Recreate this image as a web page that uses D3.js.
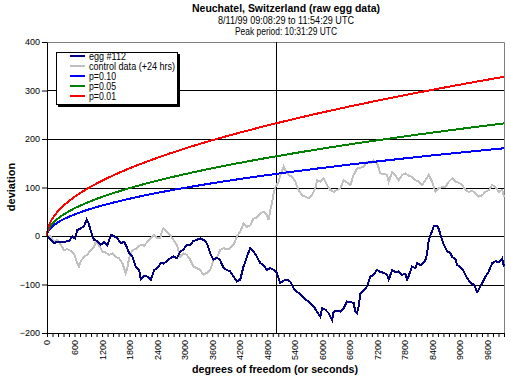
<!DOCTYPE html>
<html>
<meta charset="utf-8">
<script src="https://d3js.org/d3.v7.min.js" charset="utf-8"></script>
<title>Neuchatel egg data</title>
<style>
body { margin: 0; background: #fff; }
text { font-family: Arial, "Liberation Sans", sans-serif; }
</style>
<body>
<script type="text/javascript">

var size = { width : 511, height : 383 };
var plot = { left : 47, right : 504, top : 42, bottom : 333 };

// egg #112, cumulative deviation (seconds, value)
var eggSecs = [0,153,262,371,480,552,611,661,735,807,866,901,954,1026,1098,1172,1244,1316,1390,1462,
    1534,1608,1680,1717,1789,1861,1935,2007,2044,2117,2189,2263,2335,2407,2481,2538,2612,2684,2757,2829,
    2902,2975,3048,3120,3193,3266,3339,3411,3484,3557,3629,3703,3775,3847,3921,3993,4065,4139,4211,4283,
    4357,4430,4502,4576,4648,4720,4794,4866,4938,5012,5084,5156,5230,5302,5374,5449,5520,5593,5667,5739,
    5811,5885,5957,5994,6066,6138,6212,6248,6321,6393,6465,6539,6611,6683,6720,6757,6793,6830,6902,6975,
    7048,7120,7194,7266,7338,7412,7448,7522,7593,7665,7740,7812,7849,7884,7958,8030,8067,8139,8211,8248,
    8285,8320,8357,8394,8430,8504,8539,8575,8648,8722,8794,8831,8903,8940,9012,9084,9158,9230,9302,9376,
    9411,9485,9557,9629,9703,9774,9846,9920,9960];
var eggDev = [0,-14,-12,-12,-10,-1,-5,12,16,20,34,28,10,-8,-10,-18,-12,-20,2,0,
    -5,-15,-12,-18,-35,-42,-63,-70,-90,-82,-84,-90,-70,-66,-56,-57,-52,-46,-42,-46,
    -32,-28,-18,-18,-10,-8,-5,-8,-15,-36,-49,-45,-50,-66,-70,-73,-84,-94,-90,-63,
    -43,-25,-32,-43,-56,-60,-70,-66,-70,-77,-97,-92,-90,-94,-108,-115,-120,-128,-133,-139,
    -145,-156,-166,-149,-152,-159,-173,-156,-154,-156,-149,-135,-136,-138,-156,-159,-145,-118,-112,-104,
    -84,-80,-70,-74,-76,-80,-90,-70,-75,-73,-80,-78,-90,-82,-63,-66,-56,-60,-55,-49,
    -36,-8,2,10,21,20,15,2,-18,-32,-35,-43,-48,-60,-64,-73,-87,-97,-100,-115,
    -110,-97,-84,-73,-56,-52,-54,-46,-63];

// control data (+24 hrs)
var ctrlSecs = [0,81,153,225,299,371,443,517,589,661,698,735,807,879,954,1026,1063,1098,1135,1207,
    1281,1353,1425,1499,1571,1643,1717,1752,1789,1861,1935,2044,2117,2189,2263,2335,2407,2466,2503,2538,
    2612,2684,2757,2829,2902,2975,3048,3120,3193,3266,3339,3411,3484,3557,3629,3703,3775,3847,3921,3993,
    4065,4139,4211,4283,4357,4430,4502,4576,4648,4720,4794,4830,4866,4903,4938,4976,5048,5084,5156,5193,
    5265,5339,5411,5483,5557,5630,5702,5776,5848,5885,5957,6030,6102,6175,6247,6321,6393,6465,6539,6611,
    6683,6757,6830,6902,6975,7048,7120,7194,7266,7338,7412,7448,7522,7593,7665,7740,7812,7884,7958,8030,
    8102,8176,8248,8320,8394,8466,8539,8613,8685,8757,8831,8903,8975,9049,9121,9193,9267,9339,9411,9485,
    9557,9629,9703,9774,9846,9920,9960];
var ctrlDev = [0,-1,-12,-8,-18,-29,-27,-31,-36,-56,-63,-52,-43,-38,-29,-22,-12,-16,-20,-32,
    -34,-39,-36,-43,-46,-56,-77,-66,-46,-29,-27,-18,-20,-12,-5,2,-5,-5,9,16,
    9,2,-8,-18,-43,-36,-39,-49,-63,-66,-70,-80,-76,-70,-49,-44,-29,-25,-28,-25,
    -18,-1,9,26,19,22,36,38,47,50,43,33,53,67,88,100,112,125,143,136,
    126,122,112,95,84,81,78,84,98,115,112,119,105,95,91,95,98,115,110,105,
    126,139,141,143,153,150,156,150,129,128,126,112,132,125,115,126,129,124,122,115,
    112,105,115,126,112,91,98,101,101,112,119,112,110,105,95,91,93,88,81,84,
    91,95,105,101,91,95,81];

// significance envelopes
var bandSecs = [0,10,30,60,120,240,360,600,900,1200,1800,2400,3000,3600,4200,4800,5400,6000,6600,7200,7800,8400,9000,9600,9960];
var p10 = [0,5.7,9.9,14.0,19.9,28.1,34.4,44.4,54.4,62.8,76.9,88.8,99.3,108.8,117.5,125.6,133.2,140.4,147.3,153.8,160.1,166.2,172.0,177.6,180.9];
var p05 = [0,7.4,12.7,18.0,25.5,36.0,44.1,57.0,69.8,80.6,98.7,114.0,127.4,139.6,150.8,161.2,170.9,180.2,189.0,197.4,205.5,213.2,220.7,227.9,232.2];
var p01 = [0,10.4,18.0,25.5,36.0,51.0,62.4,80.6,98.7,114.0,139.6,161.1,180.2,197.4,213.2,227.9,241.7,254.8,267.2,279.1,290.5,301.5,312.1,322.3,328.3];

var peakSec = 4980;
var yTicks = [-200,-100,0,100,200,300,400];
var gridValues = [-100,0,100,200,300];

var seriesNames = ["egg #112", "control data (+24 hrs)", "p=0.10", "p=0.05", "p=0.01"];
var seriesColors = ["#000080", "#c0c0c0", "#0000ff", "#008000", "#ff0000"];
var legendTextWidth = [37, 86, 27, 27, 27];

var xScale = d3.scaleLinear().domain([0, 9960]).range([plot.left, plot.right]);
var yScale = d3.scaleLinear().domain([-200, 400]).range([plot.bottom, plot.top]);

function zip(xs, ys){
    return xs.map(function(x, i){ return {x: x, y: ys[i]}; });
}

var svg = d3.select("body").append("svg")
    .attr("width", size.width)
    .attr("height", size.height);

svg.append("rect").attr("width", size.width).attr("height", size.height).attr("fill", "#fff");

// titles
var title = svg.append("g").attr("text-anchor", "middle");
title.append("text").attr("x", 286).attr("y", 12)
    .style("font-weight", "bold").style("font-size", "11px")
    .attr("textLength", 188).attr("lengthAdjust", "spacingAndGlyphs")
    .text("Neuchatel, Switzerland (raw egg data)");
title.append("text").attr("x", 286).attr("y", 24)
    .style("font-size", "10px")
    .attr("textLength", 136).attr("lengthAdjust", "spacingAndGlyphs")
    .text("8/11/99 09:08:29 to 11:54:29 UTC");
title.append("text").attr("x", 286).attr("y", 35)
    .style("font-size", "10px")
    .attr("textLength", 102).attr("lengthAdjust", "spacingAndGlyphs")
    .text("Peak period: 10:31:29 UTC");

// gridlines
svg.append("g").selectAll("line")
    .data(gridValues).enter().append("line")
    .attr("x1", plot.left).attr("x2", plot.right)
    .attr("y1", function(d){ return Math.round(yScale(d)) + 0.5; })
    .attr("y2", function(d){ return Math.round(yScale(d)) + 0.5; })
    .attr("stroke", "#000").attr("stroke-width", 1);

// plot border (top / right)
svg.append("path")
    .attr("d", "M" + plot.left + "," + (plot.top + 0.5) + "H" + (plot.right + 0.5) + "V" + plot.bottom)
    .attr("fill", "none").attr("stroke", "#808080");

// peak marker
svg.append("line")
    .attr("x1", Math.round(xScale(peakSec)) + 0.5).attr("x2", Math.round(xScale(peakSec)) + 0.5)
    .attr("y1", plot.top).attr("y2", plot.bottom)
    .attr("stroke", "#000");

var line = d3.line()
    .x(function(d){ return xScale(d.x); })
    .y(function(d){ return yScale(d.y); });
var smooth = d3.line()
    .curve(d3.curveMonotoneX)
    .x(function(d){ return xScale(d.x); })
    .y(function(d){ return yScale(d.y); });

var series = [
    {data: zip(ctrlSecs, ctrlDev), color: seriesColors[1], gen: line},
    {data: zip(eggSecs, eggDev), color: seriesColors[0], gen: line},
    {data: zip(bandSecs, p10), color: seriesColors[2], gen: smooth},
    {data: zip(bandSecs, p05), color: seriesColors[3], gen: smooth},
    {data: zip(bandSecs, p01), color: seriesColors[4], gen: smooth}
];

svg.append("g").selectAll("path")
    .data(series).enter().append("path")
    .attr("d", function(d){ return d.gen(d.data); })
    .attr("fill", "none")
    .attr("stroke", function(d){ return d.color; })
    .attr("stroke-width", 2)
    .attr("shape-rendering", "crispEdges");

// x axis
var xTickValues = d3.range(0, 9961, 120);
var xAxis = svg.append("g")
    .attr("transform", "translate(0," + plot.bottom + ")")
    .call(d3.axisBottom(xScale)
        .tickValues(xTickValues)
        .tickSize(4)
        .tickSizeOuter(0)
        .tickFormat(function(d){ return d % 600 === 0 ? d : ""; }));
xAxis.select(".domain").attr("stroke", "#000");
xAxis.selectAll(".tick line").attr("stroke", "#000");
xAxis.selectAll("text")
    .style("font-size", "9px")
    .attr("fill", "#000")
    .attr("text-anchor", "end")
    .attr("transform", "rotate(-90)")
    .attr("x", -7)
    .attr("y", 0)
    .attr("dy", "0.33em");

// y axis
var yAxis = svg.append("g")
    .attr("transform", "translate(" + plot.left + ",0)")
    .call(d3.axisLeft(yScale)
        .tickValues(yTicks)
        .tickSize(5)
        .tickSizeOuter(0));
yAxis.select(".domain").attr("stroke", "#000");
yAxis.selectAll(".tick line").attr("stroke", "#000");
yAxis.selectAll("text").style("font-size", "9px").attr("fill", "#000").attr("x", -7);

// axis titles
svg.append("text")
    .attr("x", 275).attr("y", 373)
    .attr("text-anchor", "middle")
    .style("font-weight", "bold").style("font-size", "11px")
    .attr("textLength", 166).attr("lengthAdjust", "spacingAndGlyphs")
    .text("degrees of freedom (or seconds)");
svg.append("text")
    .attr("transform", "translate(15,187) rotate(-90)")
    .attr("text-anchor", "middle")
    .style("font-weight", "bold").style("font-size", "11px")
    .text("deviation");

// legend
var legend = svg.append("g");
legend.append("rect")
    .attr("x", 58).attr("y", 54).attr("width", 122).attr("height", 53)
    .attr("fill", "#000");
legend.append("rect")
    .attr("x", 56.5).attr("y", 52.5).attr("width", 121).attr("height", 52)
    .attr("fill", "#fff").attr("stroke", "#000");

var items = legend.selectAll(".item")
    .data(seriesNames).enter().append("g")
    .attr("class", "item")
    .attr("transform", function(d, i){ return "translate(0," + (56 + i * 10) + ")"; });
items.append("line")
    .attr("x1", 70).attr("x2", 85)
    .attr("y1", 0).attr("y2", 0)
    .attr("stroke", function(d, i){ return seriesColors[i]; })
    .attr("stroke-width", 2)
    .attr("shape-rendering", "crispEdges");
items.append("text")
    .attr("x", 89).attr("dy", "0.35em")
    .style("font-size", "10px")
    .attr("textLength", function(d, i){ return legendTextWidth[i]; })
    .attr("lengthAdjust", "spacingAndGlyphs")
    .text(function(d){ return d; });

</script>
</body>
</html>
